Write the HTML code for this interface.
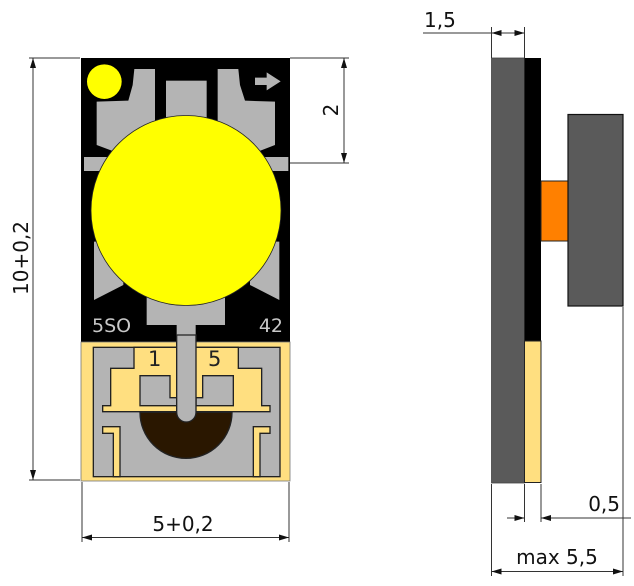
<!DOCTYPE html>
<html><head><meta charset="utf-8"><style>
html,body{margin:0;padding:0;background:#fff;}
svg{display:block;}
text{font-family:"DejaVu Sans","Liberation Sans",sans-serif;}
</style></head><body>
<svg width="634" height="586" viewBox="0 0 634 586" xmlns="http://www.w3.org/2000/svg">
<defs>
<marker id="a" viewBox="0 0 10 6" refX="10" refY="3" markerWidth="10" markerHeight="6" orient="auto-start-reverse" markerUnits="userSpaceOnUse"><path d="M0,0 L10,3 L0,6 z" fill="#111"/></marker>
</defs>

<rect x="81" y="58" width="209" height="284" fill="#000"/>
<g transform="translate(80,55) scale(0.33333)" fill="#b4b4b4">
  <path d="M163,42 L225,42 L225,300 L130,300 L50,270 L50,140 L145,137 L158,90 Z"/>
  <path d="M475,42 L413,42 L413,300 L508,300 L585,270 L585,140 L495,137 L480,90 Z"/>
  <rect x="258" y="77" width="122" height="140"/>
  <rect x="12" y="306" width="100" height="42"/>
  <rect x="525" y="306" width="100" height="42"/>
  <path d="M42,560 L130,560 L130,690 L42,735 Z"/>
  <path d="M598,560 L510,560 L510,690 L598,735 Z"/>
  <path d="M200,700 L435,700 L435,810 L347,810 L347,870 L290,870 L290,810 L200,810 Z"/>
  <circle cx="73" cy="80" r="52" fill="#ffff00"/>
  <path d="M525,68 L560,68 L560,52 L602,79 L560,106 L560,90 L525,90 Z"/>
</g>
<circle cx="186" cy="210.5" r="95" fill="#ffff00" stroke="#222" stroke-width="0.8"/>
<text x="92" y="332" font-size="19" fill="#c8c8c8">5SO</text>
<text x="283" y="332" font-size="19" fill="#c8c8c8" text-anchor="end">42</text>

<rect x="81" y="342" width="209" height="139" fill="#ffdf80" stroke="#777" stroke-width="0.8"/>
<g transform="translate(80,335) scale(0.33333)" stroke="#222" stroke-width="4">
  <rect x="40" y="37" width="560" height="388" fill="#b4b4b4"/>
  <path d="M162,37 L475,37 L475,100 L545,100 L545,212 L570,212 L570,230 L68,230 L68,212 L92,212 L92,100 L162,100 Z" fill="#ffdf80"/>
  <path d="M68,275 L120,275 L120,425 L100,425 L100,295 L68,295 Z" fill="#ffdf80"/>
  <path d="M570,275 L520,275 L520,425 L540,425 L540,295 L570,295 Z" fill="#ffdf80"/>
  <path d="M180,232 A138,138 0 0 0 456,232 Z" fill="#2a1700"/>
  <path d="M180,122 L270,122 L270,188 L290,188 L290,212 L180,212 Z" fill="#b4b4b4"/>
  <path d="M460,122 L368,122 L368,188 L348,188 L348,212 L460,212 Z" fill="#b4b4b4"/>
  <path d="M290,0 L348,0 L348,232 A29,29 0 0 1 290,232 Z" fill="#b4b4b4"/>
</g>
<text x="148" y="366" font-size="21" fill="#222">1</text>
<text x="208" y="366" font-size="21" fill="#222">5</text>

<g stroke="#333" stroke-width="1" fill="none">
  <line x1="29" y1="58" x2="80" y2="58"/>
  <line x1="29" y1="480" x2="80" y2="480"/>
  <line x1="33" y1="58" x2="33" y2="480" marker-start="url(#a)" marker-end="url(#a)"/>
  <line x1="290" y1="58" x2="349" y2="58"/>
  <line x1="290" y1="163" x2="349" y2="163"/>
  <line x1="344" y1="58" x2="344" y2="163" marker-start="url(#a)" marker-end="url(#a)"/>
  <line x1="82" y1="482" x2="82" y2="542"/>
  <line x1="289" y1="482" x2="289" y2="542"/>
  <line x1="82" y1="537.5" x2="289" y2="537.5" marker-start="url(#a)" marker-end="url(#a)"/>
</g>
<text transform="translate(28,258) rotate(-90)" font-size="20" fill="#111" text-anchor="middle">10+0,2</text>
<text transform="translate(338,110) rotate(-90)" font-size="20" fill="#111" text-anchor="middle">2</text>
<text x="183" y="531" font-size="20" fill="#111" text-anchor="middle">5+0,2</text>

<rect x="491.5" y="58" width="33" height="425" fill="#5a5a5a" stroke="#444" stroke-width="0.8"/>
<rect x="524.5" y="58" width="16.5" height="283" fill="#000"/>
<rect x="524.5" y="341" width="16.5" height="141.5" fill="#ffdf80" stroke="#222" stroke-width="1"/>
<rect x="541" y="181" width="27" height="60" fill="#ff8000" stroke="#222" stroke-width="1"/>
<rect x="568" y="114.5" width="55" height="191.5" fill="#5a5a5a" stroke="#111" stroke-width="1.2"/>
<g stroke="#333" stroke-width="1" fill="none">
  <line x1="491.5" y1="27" x2="491.5" y2="58"/>
  <line x1="524.5" y1="27" x2="524.5" y2="58"/>
  <line x1="423" y1="33" x2="491.5" y2="33"/>
  <line x1="491.5" y1="33" x2="524.5" y2="33" marker-start="url(#a)" marker-end="url(#a)"/>
  <line x1="524.5" y1="484" x2="524.5" y2="522"/>
  <line x1="541" y1="484" x2="541" y2="522"/>
  <line x1="507" y1="518" x2="524.5" y2="518" marker-end="url(#a)"/>
  <line x1="631" y1="518" x2="541" y2="518" marker-end="url(#a)"/>
  <line x1="491.5" y1="484" x2="491.5" y2="576"/>
  <line x1="623" y1="307" x2="623" y2="576"/>
  <line x1="491.5" y1="571.5" x2="623" y2="571.5" marker-start="url(#a)" marker-end="url(#a)"/>
</g>
<text x="424" y="27" font-size="20" fill="#111">1,5</text>
<text x="620" y="511" font-size="20" fill="#111" text-anchor="end">0,5</text>
<text x="557" y="564" font-size="20" fill="#111" text-anchor="middle">max 5,5</text>
</svg>
</body></html>
